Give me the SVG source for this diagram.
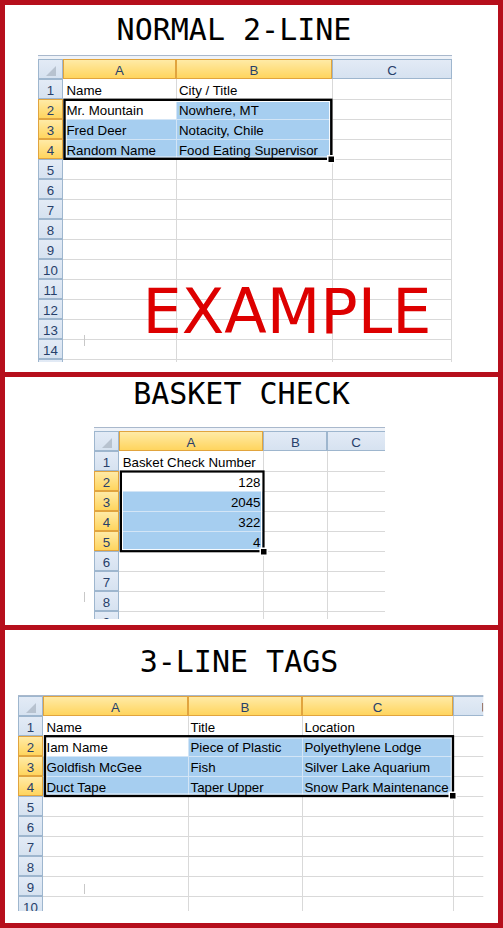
<svg xmlns="http://www.w3.org/2000/svg" width="503" height="928" viewBox="0 0 503 928">
<style>
.hb{fill:url(#gBlue);stroke:#9EB6CE;stroke-width:1}
.hg{fill:url(#gGold);stroke:#E1A43E;stroke-width:1}
.ht{font-family:"Liberation Sans",Arial,sans-serif;font-size:13.3px;fill:#27406A;text-anchor:middle}
.ct{font-family:"Liberation Sans",Arial,sans-serif;font-size:13.3px;fill:#000}
.num{text-anchor:end}
.grid{stroke:#D9D9D9;stroke-width:1;fill:none}
.under{fill:#D3E5F6}
.sel{fill:#A6CEF0}
.bord{fill:none;stroke:#000}
.inner{fill:none;stroke:#fff;stroke-width:1}
.title{font-family:"DejaVu Sans Mono","Liberation Mono",monospace;font-size:30px;fill:#000;text-anchor:middle}
.band{fill:#EEF2F8}
.topl{stroke:#A9B8CC;stroke-width:1}
.tick{stroke:#C8C8C8;stroke-width:1}
.tri{fill:#B7C2CF}
</style>
<defs>
<linearGradient id="gBlue" x1="0" y1="0" x2="0" y2="1"><stop offset="0" stop-color="#E3EBF6"/><stop offset="1" stop-color="#D6E2F0"/></linearGradient>
<linearGradient id="gGold" x1="0" y1="0" x2="0" y2="1"><stop offset="0" stop-color="#FFEBA8"/><stop offset="1" stop-color="#FFD45C"/></linearGradient>
<clipPath id="c1"><rect x="30" y="50" width="430" height="312"/></clipPath>
<clipPath id="c2"><rect x="90" y="420" width="295" height="199"/></clipPath>
<clipPath id="c3"><rect x="10" y="690" width="473.3" height="221"/></clipPath>
</defs>
<rect x="0" y="0" width="503" height="928" fill="#fff"/>

<!-- ========== PANEL 1 ========== -->
<g id="panel1">
<text class="title" x="234" y="40">NORMAL 2-LINE</text>
<g id="sheet1" clip-path="url(#c1)">
<rect class="band" x="38" y="55" width="414" height="4"/>
<line class="topl" x1="38" y1="55.5" x2="452" y2="55.5"/>
<rect class="hb" x="38.5" y="59.5" width="24" height="19"/>
<polygon class="tri" points="56,66 56,76 46,76"/>
<rect class="hg" x="63.5" y="59.5" width="112" height="19"/>
<rect class="hg" x="176.5" y="59.5" width="155" height="19"/>
<rect class="hb" x="332.5" y="59.5" width="119" height="19"/>
<text class="ht" x="119.5" y="75">A</text>
<text class="ht" x="254" y="75">B</text>
<text class="ht" x="392" y="75">C</text>
<rect class="hb" x="38.5" y="79.5" width="24" height="19"/>
<rect class="hg" x="38.5" y="99.5" width="24" height="19"/>
<rect class="hg" x="38.5" y="119.5" width="24" height="19"/>
<rect class="hg" x="38.5" y="139.5" width="24" height="19"/>
<rect class="hb" x="38.5" y="159.5" width="24" height="19"/>
<rect class="hb" x="38.5" y="179.5" width="24" height="19"/>
<rect class="hb" x="38.5" y="199.5" width="24" height="19"/>
<rect class="hb" x="38.5" y="219.5" width="24" height="19"/>
<rect class="hb" x="38.5" y="239.5" width="24" height="19"/>
<rect class="hb" x="38.5" y="259.5" width="24" height="19"/>
<rect class="hb" x="38.5" y="279.5" width="24" height="19"/>
<rect class="hb" x="38.5" y="299.5" width="24" height="19"/>
<rect class="hb" x="38.5" y="319.5" width="24" height="19"/>
<rect class="hb" x="38.5" y="339.5" width="24" height="19"/>
<rect class="hb" x="38.5" y="359.5" width="24" height="19"/>
<text class="ht" x="50.5" y="95">1</text>
<text class="ht" x="50.5" y="115">2</text>
<text class="ht" x="50.5" y="135">3</text>
<text class="ht" x="50.5" y="155">4</text>
<text class="ht" x="50.5" y="175">5</text>
<text class="ht" x="50.5" y="195">6</text>
<text class="ht" x="50.5" y="215">7</text>
<text class="ht" x="50.5" y="235">8</text>
<text class="ht" x="50.5" y="255">9</text>
<text class="ht" x="50.5" y="275">10</text>
<text class="ht" x="50.5" y="295">11</text>
<text class="ht" x="50.5" y="315">12</text>
<text class="ht" x="50.5" y="335">13</text>
<text class="ht" x="50.5" y="355">14</text>
<path class="grid" d="M63 99.5H452M63 119.5H452M63 139.5H452M63 159.5H452M63 179.5H452M63 199.5H452M63 219.5H452M63 239.5H452M63 259.5H452M63 279.5H452M63 299.5H452M63 319.5H452M63 339.5H452M63 359.5H452M176.5 79V362M332.5 79V362M451.5 79V362"/>
<rect class="under" x="63" y="99" width="269" height="60"/>
<rect fill="#fff" x="63" y="99" width="113" height="20"/>
<rect class="sel" x="177" y="99" width="155" height="20"/>
<rect class="sel" x="63" y="120" width="113" height="19"/>
<rect class="sel" x="177" y="120" width="155" height="19"/>
<rect class="sel" x="63" y="140" width="113" height="19"/>
<rect class="sel" x="177" y="140" width="155" height="19"/>
<rect class="inner" x="66.2" y="101.5" width="263.4" height="55.6"/>
<rect class="bord" stroke-width="2.4" x="64.5" y="99.8" width="266.8" height="59"/>
<rect fill="#fff" x="327" y="155" width="8.5" height="8.5"/>
<rect fill="#000" x="328.5" y="156.5" width="5.5" height="5.5"/>
<text class="ct" x="66.5" y="95">Name</text>
<text class="ct" x="179" y="95">City / Title</text>
<text class="ct" x="66.5" y="115">Mr. Mountain</text>
<text class="ct" x="179" y="115">Nowhere, MT</text>
<text class="ct" x="66.5" y="135">Fred Deer</text>
<text class="ct" x="179" y="135">Notacity, Chile</text>
<text class="ct" x="66.5" y="155">Random Name</text>
<text class="ct" x="179" y="155">Food Eating Supervisor</text>
<line class="tick" x1="84.5" y1="335" x2="84.5" y2="346"/>
</g>
<text x="142.5" y="333" font-family="DejaVu Sans,Verdana,sans-serif" font-size="63" fill="#DD0000" textLength="289" lengthAdjust="spacingAndGlyphs">EXAMPLE</text>
</g>

<!-- ========== PANEL 2 ========== -->
<g id="panel2">
<text class="title" x="241.5" y="404">BASKET CHECK</text>
<g id="sheet2" clip-path="url(#c2)">
<rect class="band" x="94" y="427" width="291" height="5"/>
<line class="topl" x1="94" y1="427.5" x2="385" y2="427.5"/>
<rect class="hb" x="94.5" y="431.5" width="24" height="19"/>
<polygon class="tri" points="112,438 112,448 102,448"/>
<rect class="hg" x="119.5" y="431.5" width="143" height="19"/>
<rect class="hb" x="263.5" y="431.5" width="63" height="19"/>
<rect class="hb" x="327.5" y="431.5" width="63" height="19"/>
<text class="ht" x="191" y="447">A</text>
<text class="ht" x="295.5" y="447">B</text>
<text class="ht" x="356" y="447">C</text>
<rect class="hb" x="94.5" y="451.5" width="24" height="19"/>
<rect class="hg" x="94.5" y="471.5" width="24" height="19"/>
<rect class="hg" x="94.5" y="491.5" width="24" height="19"/>
<rect class="hg" x="94.5" y="511.5" width="24" height="19"/>
<rect class="hg" x="94.5" y="531.5" width="24" height="19"/>
<rect class="hb" x="94.5" y="551.5" width="24" height="19"/>
<rect class="hb" x="94.5" y="571.5" width="24" height="19"/>
<rect class="hb" x="94.5" y="591.5" width="24" height="19"/>
<rect class="hb" x="94.5" y="611.5" width="24" height="19"/>
<text class="ht" x="106.5" y="467">1</text>
<text class="ht" x="106.5" y="487">2</text>
<text class="ht" x="106.5" y="507">3</text>
<text class="ht" x="106.5" y="527">4</text>
<text class="ht" x="106.5" y="547">5</text>
<text class="ht" x="106.5" y="567">6</text>
<text class="ht" x="106.5" y="587">7</text>
<text class="ht" x="106.5" y="607">8</text>
<text class="ht" x="106.5" y="627">9</text>
<path class="grid" d="M119 471.5H385M119 491.5H385M119 511.5H385M119 531.5H385M119 551.5H385M119 571.5H385M119 591.5H385M119 611.5H385M263.5 451V619M327.5 451V619"/>
<rect class="under" x="119" y="471" width="144" height="80"/>
<rect fill="#fff" x="119" y="471" width="144" height="20"/>
<rect class="sel" x="119" y="492" width="144" height="19"/>
<rect class="sel" x="119" y="512" width="144" height="19"/>
<rect class="sel" x="119" y="532" width="144" height="19"/>
<rect class="inner" x="122.5" y="473.2" width="139" height="76.4"/>
<rect class="bord" stroke-width="2.2" x="120.9" y="471.5" width="142.6" height="79.7"/>
<rect fill="#fff" x="259.5" y="547.5" width="8.5" height="8.5"/>
<rect fill="#000" x="261" y="549" width="5.5" height="5.5"/>
<text class="ct" x="122.7" y="467">Basket Check Number</text>
<text class="ct num" x="260.5" y="487">128</text>
<text class="ct num" x="260.5" y="507">2045</text>
<text class="ct num" x="260.5" y="527">322</text>
<text class="ct num" x="260.5" y="547">4</text>
</g>
<line class="tick" x1="84.5" y1="592" x2="84.5" y2="602"/>
</g>

<!-- ========== PANEL 3 ========== -->
<g id="panel3">
<text class="title" x="239" y="672">3-LINE TAGS</text>
<g id="sheet3" clip-path="url(#c3)">
<rect class="band" x="18" y="695" width="466" height="2"/>
<line class="topl" x1="18" y1="695.5" x2="484" y2="695.5"/>
<rect class="hb" x="18.5" y="696.5" width="24" height="19"/>
<polygon class="tri" points="36,703 36,713 26,713"/>
<rect class="hg" x="43.5" y="696.5" width="144" height="19"/>
<rect class="hg" x="188.5" y="696.5" width="113" height="19"/>
<rect class="hg" x="302.5" y="696.5" width="150" height="19"/>
<rect class="hb" x="453.5" y="696.5" width="40" height="19"/>
<rect fill="#9C7A6E" x="482" y="703" width="1.3" height="8.5"/>
<text class="ht" x="115.5" y="712">A</text>
<text class="ht" x="245" y="712">B</text>
<text class="ht" x="377.5" y="712">C</text>
<rect class="hb" x="18.5" y="716.5" width="24" height="19"/>
<rect class="hg" x="18.5" y="736.5" width="24" height="19"/>
<rect class="hg" x="18.5" y="756.5" width="24" height="19"/>
<rect class="hg" x="18.5" y="776.5" width="24" height="19"/>
<rect class="hb" x="18.5" y="796.5" width="24" height="19"/>
<rect class="hb" x="18.5" y="816.5" width="24" height="19"/>
<rect class="hb" x="18.5" y="836.5" width="24" height="19"/>
<rect class="hb" x="18.5" y="856.5" width="24" height="19"/>
<rect class="hb" x="18.5" y="876.5" width="24" height="19"/>
<rect class="hb" x="18.5" y="896.5" width="24" height="19"/>
<text class="ht" x="30.5" y="732">1</text>
<text class="ht" x="30.5" y="752">2</text>
<text class="ht" x="30.5" y="772">3</text>
<text class="ht" x="30.5" y="792">4</text>
<text class="ht" x="30.5" y="812">5</text>
<text class="ht" x="30.5" y="832">6</text>
<text class="ht" x="30.5" y="852">7</text>
<text class="ht" x="30.5" y="872">8</text>
<text class="ht" x="30.5" y="892">9</text>
<text class="ht" x="30.5" y="912">10</text>
<path class="grid" d="M43 736.5H484M43 756.5H484M43 776.5H484M43 796.5H484M43 816.5H484M43 836.5H484M43 856.5H484M43 876.5H484M43 896.5H484M188.5 716V911M302.5 716V911M453.5 716V911"/>
<rect class="under" x="43" y="736" width="410" height="60"/>
<rect fill="#fff" x="43" y="736" width="145" height="20"/>
<rect class="sel" x="189" y="736" width="113" height="20"/>
<rect class="sel" x="303" y="736" width="150" height="20"/>
<rect class="sel" x="43" y="757" width="145" height="19"/>
<rect class="sel" x="189" y="757" width="113" height="19"/>
<rect class="sel" x="303" y="757" width="150" height="19"/>
<rect class="sel" x="43" y="777" width="145" height="19"/>
<rect class="sel" x="189" y="777" width="113" height="19"/>
<rect class="sel" x="303" y="777" width="150" height="19"/>
<rect class="inner" x="46.7" y="737.9" width="404.6" height="56.2"/>
<rect class="bord" stroke-width="2.3" x="45" y="736.2" width="408" height="59.8"/>
<rect fill="#fff" x="448.5" y="791.5" width="8.5" height="8.5"/>
<rect fill="#000" x="450" y="793" width="5.5" height="5.5"/>
<text class="ct" x="46.5" y="732">Name</text>
<text class="ct" x="190.5" y="732">Title</text>
<text class="ct" x="304.5" y="732">Location</text>
<text class="ct" x="46.5" y="752">Iam Name</text>
<text class="ct" x="190.5" y="752">Piece of Plastic</text>
<text class="ct" x="304.5" y="752">Polyethylene Lodge</text>
<text class="ct" x="46.5" y="772">Goldfish McGee</text>
<text class="ct" x="190.5" y="772">Fish</text>
<text class="ct" x="304.5" y="772">Silver Lake Aquarium</text>
<text class="ct" x="46.5" y="792">Duct Tape</text>
<text class="ct" x="190.5" y="792">Taper Upper</text>
<text class="ct" x="304.5" y="792">Snow Park Maintenance</text>
<line class="tick" x1="84.5" y1="884" x2="84.5" y2="894"/>
</g>
</g>

<!-- ========== FRAME ========== -->
<g id="frame" fill="#B60F1C">
<rect x="0" y="0" width="503" height="5"/>
<rect x="0" y="923" width="503" height="5"/>
<rect x="0" y="0" width="5" height="928"/>
<rect x="498" y="0" width="5" height="928"/>
<rect x="0" y="372" width="503" height="5"/>
<rect x="0" y="625" width="503" height="5"/>
</g>
</svg>
